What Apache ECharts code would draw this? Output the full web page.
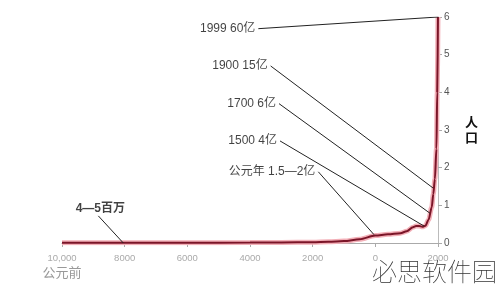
<!DOCTYPE html>
<html><head><meta charset="utf-8">
<script src="https://cdn.jsdelivr.net/npm/echarts@6/dist/echarts.min.js"></script>
<style>html,body{margin:0;padding:0;background:#fff}#c{width:500px;height:292px}</style>
</head><body><div id="c"></div>
<script>
// population curve (year, billions)
const years = [-10000,-8000,-6000,-4000,-3000,-2000,-1500,-1000,-500,0,400,800,1000,1200,1300,1400,1500,1600,1700,1800,1850,1900,1950,1975,1999];
const population = [0.005,0.005,0.007,0.01,0.014,0.02,0.03,0.05,0.1,0.2,0.23,0.26,0.31,0.42,0.45,0.45,0.43,0.46,0.62,0.95,1.3,1.7,2.5,4.0,6.0];
// x tick labels
const xTickLabels = ["10,000","8000","6000","4000","2000","0","2000"];
const xTickValues = [-10000,-8000,-6000,-4000,-2000,0,2000];
// annotations: text, label anchor (year, value), target (year, value)
const annTexts = ["1999 60亿","1900 15亿","1700 6亿","1500 4亿","公元年 1.5—2亿","4—5百万"];
const annFromX = [-3734,-3341,-3074,-3042,-1819,-8841];
const annFromY = [5.69,4.70,3.70,2.71,1.89,0.72];
const annToX = [1999,1842,1744,1554,-41,-8043];
const annToY = [6.0,1.46,0.79,0.45,0.22,0.0];

const chart = echarts.init(document.getElementById('c'));
const curve = years.map((y,i)=>[y,population[i]]);
const series = [];
series.push({type:'line',data:curve,smooth:0.3,smoothMonotone:'x',showSymbol:false,
  lineStyle:{color:'#f3b0b8',width:5},z:2,silent:true});
series.push({type:'line',data:curve,smooth:0.3,smoothMonotone:'x',showSymbol:false,
  lineStyle:{color:'#7b1528',width:2},z:3,silent:true});
annTexts.forEach((t,i)=>{
  series.push({type:'line',data:[[annFromX[i],annFromY[i]],[annToX[i],annToY[i]]],
    showSymbol:false,lineStyle:{color:'#222',width:1},z:4,silent:true});
});
series.push({type:'scatter',symbolSize:0,z:5,silent:true,
  data:annTexts.map((t,i)=>{
    const last = i===annTexts.length-1;
    return {value:[annFromX[i],annFromY[i]],
      label:{show:true,formatter:t,position:last?'top':'left',distance:last?1:3,
        offset:last?[2,0]:[0,0],
        fontSize:12,color:'#111',fontWeight:last?'bold':'normal',
        fontFamily:'Liberation Sans, "Noto Sans CJK SC", sans-serif'}};
  })});

chart.setOption({
  animation:false,
  grid:{left:62,right:62,top:17,bottom:49},
  xAxis:{type:'value',min:-10000,max:2000,interval:2000,
    axisLine:{show:true,onZero:false,lineStyle:{color:'#aaa',width:1}},
    axisTick:{show:true,length:4,lineStyle:{color:'#aaa'}},
    splitLine:{show:false},
    axisLabel:{margin:9,color:'#aaa',fontSize:9.5,lineHeight:13,
      fontFamily:'Liberation Sans, sans-serif',
      formatter:function(v){const k=xTickValues.indexOf(v);const s=k>=0?xTickLabels[k]:'';
        return k===0?s+'\n{b|公元前}':s;},
      rich:{b:{fontSize:13,color:'#999',fontFamily:'"Noto Sans CJK SC", sans-serif',lineHeight:15}}}},
  yAxis:{type:'value',position:'right',min:0,max:6,interval:1,
    name:'人\n口',nameLocation:'middle',nameRotate:0,nameGap:27,
    nameTextStyle:{fontSize:13,color:'#111',fontWeight:'bold',lineHeight:15,padding:[0,0,26,0],
      fontFamily:'"Noto Sans CJK SC", sans-serif'},
    axisLine:{show:true,onZero:false,lineStyle:{color:'#bbb',width:1}},
    axisTick:{show:true,length:4,lineStyle:{color:'#aaa'}},
    splitLine:{show:false},
    axisLabel:{margin:6,color:'#555',fontSize:10,fontFamily:'Liberation Sans, sans-serif'}},
  graphic:[{type:'text',left:372,top:259,silent:true,
    style:{text:'必思软件园',fontSize:25,fill:'#333',fontWeight:'lighter',
      fontFamily:'"Noto Sans CJK SC", sans-serif'}}],
  series:series
});
</script></body></html>
